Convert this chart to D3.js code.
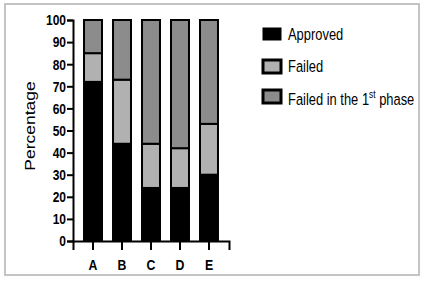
<!DOCTYPE html>
<html>
<head>
<meta charset="utf-8">
<script src="https://cdn.jsdelivr.net/npm/d3@7"></script>
<style>
  body { margin: 0; background: #fff; }
  svg text { font-family: "Liberation Sans", Arial, sans-serif; }
</style>
</head>
<body>
<div id="chart"></div>
<script>
const categories = ["A", "B", "C", "D", "E"];
const approved = [72, 44, 24, 24, 30];
const failed = [13, 29, 20, 18, 23];
const failedFirst = [15, 27, 56, 58, 47];
const seriesNames = ["Approved", "Failed", "Failed in the 1st phase"];
const yTicks = [0, 10, 20, 30, 40, 50, 60, 70, 80, 90, 100];

const colors = ["#000000", "#b1b1b1", "#8c8c8c"];

const svg = d3.select("#chart").append("svg")
  .attr("width", 424).attr("height", 281);

// outer frame
svg.append("rect")
  .attr("x", 5).attr("y", 4).attr("width", 414).attr("height", 271)
  .attr("fill", "none").attr("stroke", "#c4c4c4").attr("stroke-width", 2);

const table = categories.map((c, i) => ({
  cat: c, Approved: approved[i], Failed: failed[i], "Failed in the 1st phase": failedFirst[i]
}));
const stacked = d3.stack().keys(seriesNames)(table);

const x = d3.scaleBand().domain(categories).range([73, 229])
  .paddingInner(0.38).paddingOuter(0.38);
const y = d3.scaleLinear().domain([0, 100]).range([241, 20]);

// bars
svg.append("g").selectAll("g")
  .data(stacked)
  .join("g")
  .attr("fill", (d, i) => colors[i])
  .selectAll("rect")
  .data(d => d)
  .join("rect")
  .attr("x", d => x(d.data.cat))
  .attr("y", d => y(d[1]))
  .attr("width", x.bandwidth())
  .attr("height", d => y(d[0]) - y(d[1]))
  .attr("stroke", "#000")
  .attr("stroke-width", 2);

// y axis
const yAxis = svg.append("g")
  .attr("transform", "translate(73,0)")
  .call(d3.axisLeft(y).tickValues(yTicks).tickSize(6));
yAxis.select(".domain").attr("stroke-width", 2);
yAxis.selectAll(".tick line").attr("stroke-width", 2);
yAxis.selectAll(".tick text")
  .attr("x", null)
  .attr("transform", "translate(-7,0) scale(0.8,1)")
  .attr("fill", "#000")
  .style("font-size", "15px")
  .style("font-weight", "bold");

// x axis
const xAxis = svg.append("g")
  .attr("transform", "translate(0,241)")
  .call(d3.axisBottom(x).tickSizeOuter(0).tickSize(9));
xAxis.select(".domain").attr("stroke-width", 2);
xAxis.selectAll(".tick line").attr("stroke-width", 2);
xAxis.selectAll(".tick text")
  .attr("y", null).attr("dy", null)
  .attr("transform", "translate(0,29) scale(0.82,1)")
  .attr("fill", "#000")
  .style("font-size", "15px")
  .style("font-weight", "bold");

// y title
svg.append("text")
  .attr("transform", "translate(35,126) scale(0.82,1) rotate(-90)")
  .attr("text-anchor", "middle")
  .style("font-size", "17.5px")
  .attr("fill", "#000")
  .text("Percentage");

// legend
const legendY = [34, 66, 96];
seriesNames.forEach((name, i) => {
  const g = svg.append("g").attr("transform", `translate(262,${legendY[i]})`);
  g.append("rect")
    .attr("x", 1).attr("y", -6).attr("width", 18).attr("height", i === 0 ? 12 : 13)
    .attr("fill", colors[i]).attr("stroke", "#000").attr("stroke-width", i === 0 ? 1 : 3);
  const t = g.append("text")
    .attr("transform", `translate(26,${i === 2 ? 9 : 6}) scale(0.76,1)`)
    .style("font-size", "17px")
    .attr("fill", "#000");
  if (i === 2) {
    t.append("tspan").text("Failed in the 1");
    t.append("tspan").attr("dy", -7).style("font-size", "11px").text("st");
    t.append("tspan").attr("dy", 7).text(" phase");
  } else {
    t.text(name);
  }
});
</script>
</body>
</html>
